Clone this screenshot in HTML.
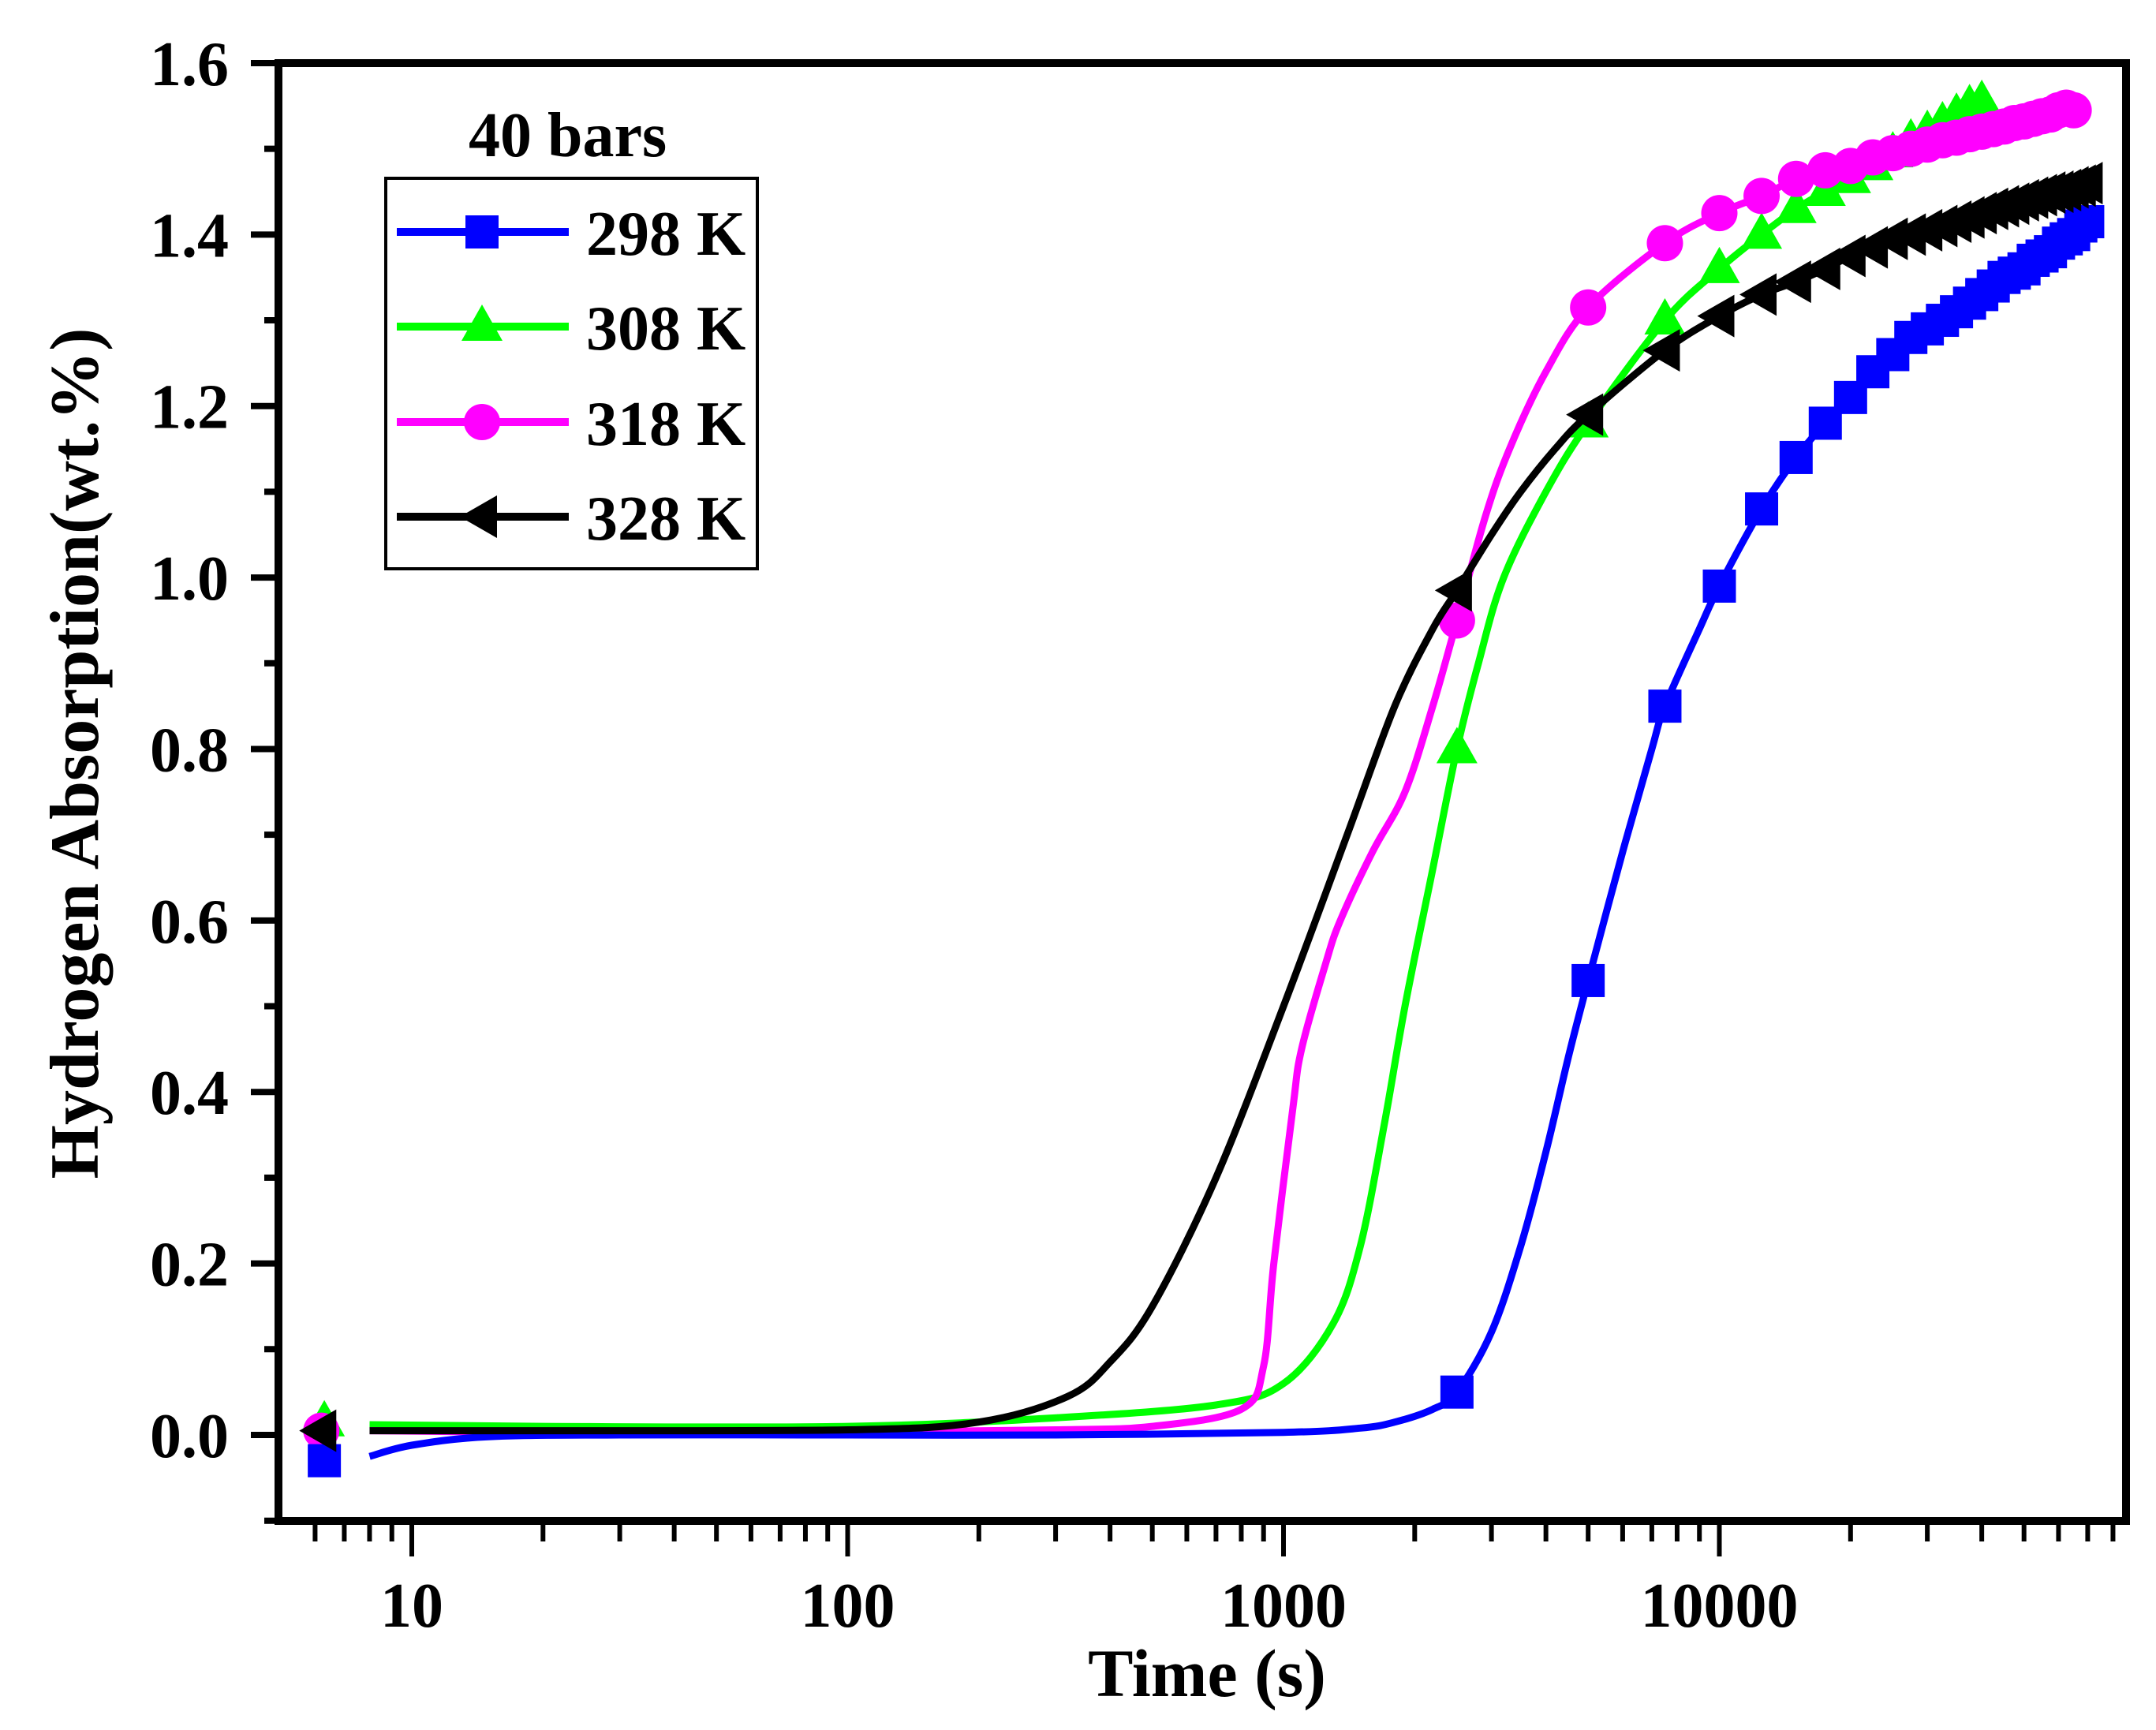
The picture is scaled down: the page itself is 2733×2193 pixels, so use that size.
<!DOCTYPE html>
<html><head><meta charset="utf-8"><style>
html,body{margin:0;padding:0;background:#fff}
svg{display:block}
text{font-family:"Liberation Serif",serif;font-weight:bold;fill:#000}
</style></head><body>
<svg id="chart" width="2733" height="2193" viewBox="0 0 2733 2193" xmlns="http://www.w3.org/2000/svg">
<g id="grid"></g>
</svg>
<script>
const yTicks=[-0.1,0,0.1,0.2,0.3,0.4,0.5,0.6,0.7,0.8,0.9,1.0,1.1,1.2,1.3,1.4,1.5,1.6];
const yLabels=["0.0","0.2","0.4","0.6","0.8","1.0","1.2","1.4","1.6"];
const xLabels=["10","100","1000","10000"];
const markerTimes=[2500,5000,7500,10000,12500,15000,17500,20000,22500,25000,27500,30000,32500,35000,37500,40000,42500,45000,47500,50000,52500,55000,57500,60000,62500,65000,67500,70000];
// 298 K
const blueCurveT=[8,10,15,30,100,300,1000,1500,1800,2200,2500,3000,3500,4000,4500,5000,6000,7000,7500,9000,10000];
const blueCurveV=[-0.025,-0.012,-0.002,0,0,0,0.003,0.008,0.015,0.03,0.05,0.12,0.22,0.33,0.44,0.53,0.68,0.8,0.85,0.94,0.99];
const blueMarkV=[0.05,0.53,0.85,0.99,1.08,1.14,1.18,1.21,1.24,1.26,1.28,1.29,1.30,1.31,1.32,1.33,1.34,1.35,1.355,1.36,1.37,1.375,1.38,1.39,1.395,1.40,1.41,1.415];
const blueFirst=[6.3,-0.03];
// 308 K
const greenCurveT=[8,20,100,300,700,1000,1300,1500,1700,1900,2200,2500,2800,3200,4000,5000];
const greenCurveV=[0.012,0.01,0.01,0.02,0.035,0.06,0.13,0.22,0.36,0.5,0.66,0.8,0.9,1.0,1.1,1.18];
const greenMarkV=[0.80,1.18,1.30,1.36,1.40,1.43,1.45,1.465,1.48,1.495,1.51,1.52,1.53,1.54,1.55,1.555];
const greenFirst=[6.3,0.015];
// 318 K
const magCurveT=[8,20,100,300,500,800,900,950,1050,1100,1250,1350,1600,1900,2200,2500,2900,3300,4000,5000];
const magCurveV=[0.005,0.003,0.003,0.006,0.01,0.03,0.08,0.2,0.38,0.45,0.55,0.6,0.68,0.75,0.85,0.95,1.07,1.15,1.24,1.315];
const magMarkV=[0.95,1.315,1.39,1.425,1.445,1.465,1.475,1.48,1.49,1.495,1.50,1.505,1.51,1.513,1.517,1.52,1.523,1.526,1.53,1.532,1.535,1.538,1.54,1.545,1.548,1.545];
const magFirst=[6.2,0.005];
// 328 K
const blkCurveT=[8,20,100,200,320,400,500,700,1000,1400,1800,2200,2500,3000,3500,4200,5000];
const blkCurveV=[0.005,0.005,0.006,0.015,0.045,0.085,0.15,0.3,0.5,0.7,0.85,0.94,0.985,1.05,1.1,1.15,1.19];
const blkMarkV=[0.985,1.19,1.265,1.305,1.33,1.345,1.36,1.375,1.385,1.395,1.40,1.405,1.41,1.415,1.42,1.425,1.43,1.433,1.436,1.44,1.443,1.446,1.449,1.45,1.452,1.455,1.457,1.46];
const blkFirst=[6.2,0.005];

const NS="http://www.w3.org/2000/svg";
const svg=document.getElementById('chart');
const L=353,R=2695,T=80,B=1928;
function xS(t){return 522+(Math.log10(t)-1)*552.5;}
function yS(v){return 1819-v*1086.9;}
function mk(tag,attrs,parent){const e=document.createElementNS(NS,tag);for(const k in attrs)e.setAttribute(k,attrs[k]);(parent||svg).appendChild(e);return e;}
function smoothPath(p){
  let d='M'+p[0][0].toFixed(1)+','+p[0][1].toFixed(1);
  for(let i=0;i<p.length-1;i++){
    const p0=p[Math.max(i-1,0)],p1=p[i],p2=p[i+1],p3=p[Math.min(i+2,p.length-1)];
    const c1=[p1[0]+(p2[0]-p0[0])/6,p1[1]+(p2[1]-p0[1])/6];
    const c2=[p2[0]-(p3[0]-p1[0])/6,p2[1]-(p3[1]-p1[1])/6];
    d+=' C'+c1[0].toFixed(1)+','+c1[1].toFixed(1)+' '+c2[0].toFixed(1)+','+c2[1].toFixed(1)+' '+p2[0].toFixed(1)+','+p2[1].toFixed(1);
  }
  return d;
}

function series(name,color,ct,cv,mv,first,shape){
  const g=mk('g',{});
  
  
  const pts=[];
  for(let i=0;i<ct.length;i++)pts.push([ct[i],cv[i]]);
  const last=ct[ct.length-1];
  for(let i=0;i<mv.length;i++)if(markerTimes[i]>last)pts.push([markerTimes[i],mv[i]]);
  const ln=mk('path',{d:smoothPath(pts.map(p=>[xS(p[0]),yS(p[1])])),fill:'none',stroke:color,'stroke-width':9,'stroke-linejoin':'round'},g);
  
  
  const all=[first].concat(mv.map((v,i)=>[markerTimes[i],v]));
  all.forEach(p=>{const m=drawMarker(shape,xS(p[0]),yS(p[1]),color,g);
    
    });
}
function drawMarker(shape,x,y,color,g){
  if(shape==='square')return mk('rect',{x:x-21,y:y-21,width:42,height:42,fill:color},g);
  if(shape==='circle')return mk('circle',{cx:x,cy:y,r:23,fill:color},g);
  if(shape==='tri')return mk('polygon',{points:`${x},${y-28} ${x-26},${y+18} ${x+26},${y+18}`,fill:color},g);
  return mk('polygon',{points:`${x-28},${y} ${x+19},${y-27} ${x+19},${y+27}`,fill:color},g);
}
series('308k','#00ff00',greenCurveT,greenCurveV,greenMarkV,greenFirst,'tri');
series('318k','#ff00ff',magCurveT,magCurveV,magMarkV,magFirst,'circle');
series('298k','#0000ff',blueCurveT,blueCurveV,blueMarkV,blueFirst,'square');
series('328k','#000000',blkCurveT,blkCurveV,blkMarkV,blkFirst,'left');

const fr=mk('rect',{x:L,y:T,width:R-L,height:B-T,fill:'none',stroke:'#000','stroke-width':10});



yTicks.forEach((v,i)=>{
  const major=Math.round(v*10)%2===0;
  const t=mk('line',{x1:L,x2:L-(major?35:18),y1:yS(v),y2:yS(v),stroke:'#000','stroke-width':8});
  
  
});
yLabels.forEach(s=>{
  const t=mk('text',{x:290,y:yS(parseFloat(s))+28,'text-anchor':'end','font-size':80});
  t.textContent=s;
  
  
});
for(let d=0;d<=4;d++){
  for(let m=1;m<=9;m++){
    const t=m*Math.pow(10,d);const x=xS(t);
    if(x<L+3||x>R-3)continue;
    const tk=mk('line',{x1:x,x2:x,y1:B,y2:B+(m===1?45:26),stroke:'#000','stroke-width':6});
    
    
  }
}
xLabels.forEach(s=>{
  const t=mk('text',{x:xS(parseFloat(s)),y:2062,'text-anchor':'middle','font-size':80});
  t.textContent=s;
  
  
});
const xt=mk('text',{x:1530,y:2150,'text-anchor':'middle','font-size':86});
xt.textContent='Time (s)';


const yt=mk('text',{x:0,y:0,'text-anchor':'middle','font-size':88,transform:'translate(124,955) rotate(-90)'});
yt.textContent='Hydrogen Absorption(wt.%)';


const an=mk('text',{x:594,y:198,'font-size':80});
an.textContent='40 bars';


const lg=mk('g',{});


mk('rect',{x:489,y:226,width:471,height:495,fill:'#fff',stroke:'#000','stroke-width':4},lg);
const legNames=['298 K','308 K','318 K','328 K'];
const legColors=['#0000ff','#00ff00','#ff00ff','#000000'];
const legShapes=['square','tri','circle','left'];
const legY=[294,414,535,655];
legNames.forEach((n,i)=>{
  const e=mk('g',{},lg);
  
  
  mk('line',{x1:503,x2:721,y1:legY[i],y2:legY[i],stroke:legColors[i],'stroke-width':10},e);
  drawMarker(legShapes[i],611,legY[i],legColors[i],e);
  const t=mk('text',{x:743,y:legY[i]+29,'font-size':80},e);
  t.textContent=n;
});
</script>
</body></html>
